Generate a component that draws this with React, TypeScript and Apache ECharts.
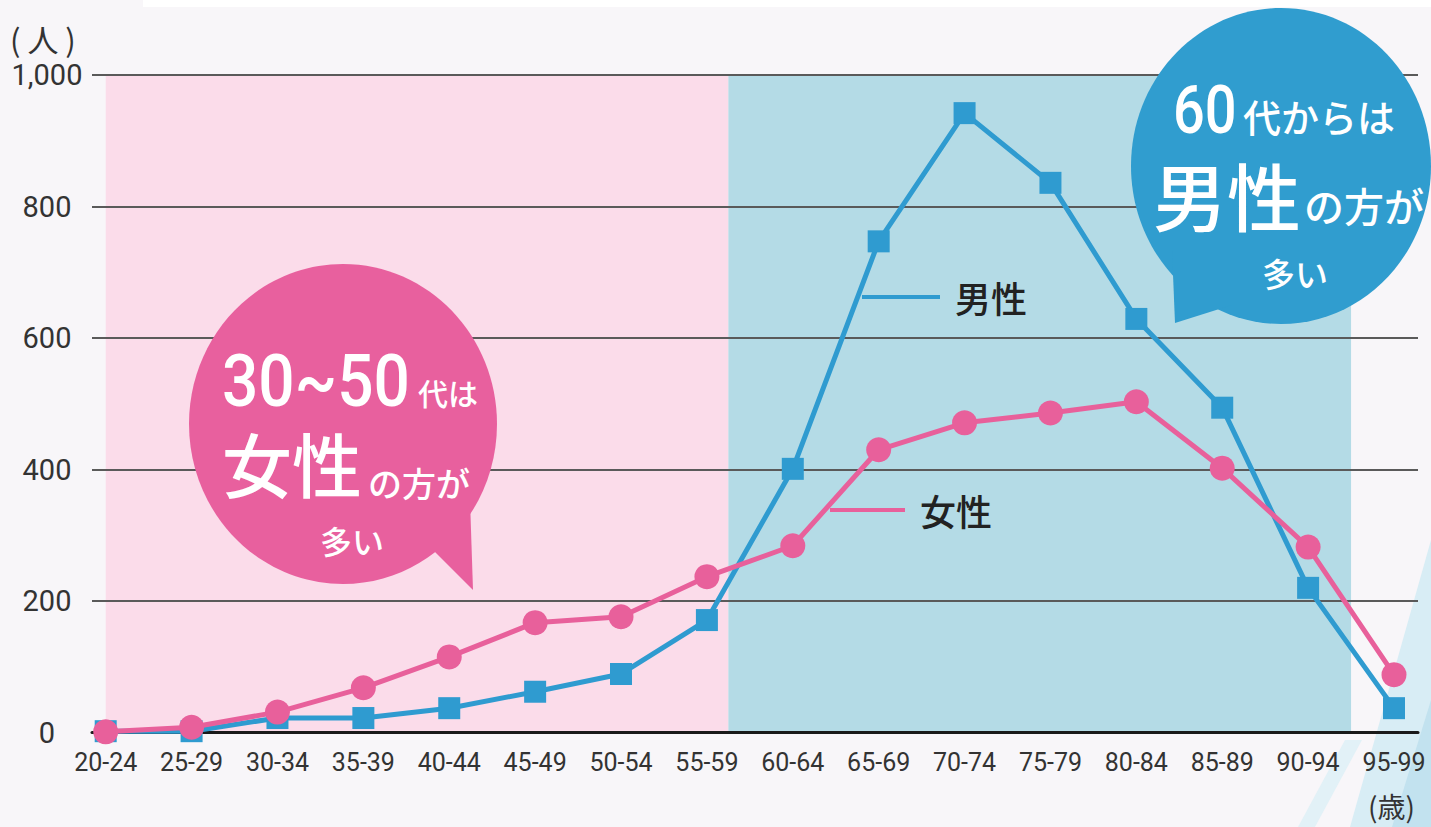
import React, { useEffect, useRef } from 'react';
import * as echarts from 'echarts';

const categories = ['20-24', '25-29', '30-34', '35-39', '40-44', '45-49', '50-54', '55-59', '60-64', '65-69', '70-74', '75-79', '80-84', '85-89', '90-94', '95-99'];
const maleValues = [2, 2, 22, 22, 37, 62, 89, 171, 401, 747, 942, 836, 629, 494, 220, 37];
const femaleValues = [1, 8, 31, 68, 115, 167, 176, 237, 284, 430, 471, 486, 503, 402, 282, 88];
const yTicks = [0, 200, 400, 600, 800, 1000];
const pinkRange = [0, 7.25];
const blueRange = [7.25, 14.5];

const NUM = "Roboto,'Liberation Sans',sans-serif";
const JP = "'Noto Sans CJK JP','Noto Sans',sans-serif";

const BLUE = '#2f9bd0';
const PINK = '#e8609b';

export default function App() {
  const ref = useRef<HTMLDivElement>(null);
  useEffect(() => {
    if (!ref.current) return;
    const chart = echarts.init(ref.current, undefined, { renderer: 'svg' });
    const yMin = yTicks[0];
    const yMax = yTicks[yTicks.length - 1];
    const yInt = yTicks[1] - yTicks[0];
    const txt = (text: string, x: number, y: number, fontSize: number, opts: any = {}) => ({
      type: 'text',
      x,
      y,
      z: 10,
      scaleX: opts.scaleX || 1,
      scaleY: opts.scaleY || 1,
      silent: true,
      style: {
        text,
        fontSize,
        fontFamily: opts.family || JP,
        fontWeight: opts.weight || 500,
        fill: opts.fill || '#fff',
        textAlign: opts.align || 'left',
        textVerticalAlign: 'middle',
      },
    });
    chart.setOption({
      animation: false,
      backgroundColor: '#f8f6f9',
      grid: [
        { left: 92, right: 13, top: 75, bottom: 94.5 },
        { left: 105.7, right: 37, top: 75, bottom: 94.5 },
      ],
      xAxis: [
        {
          gridIndex: 0, type: 'value', min: 0, max: 1, z: 1,
          axisLine: { show: true, lineStyle: { color: '#1a1a1a', width: 3 } },
          axisTick: { show: false }, axisLabel: { show: false }, splitLine: { show: false },
        },
        {
          gridIndex: 1, type: 'category', data: categories, boundaryGap: false,
          axisLine: { show: false }, axisTick: { show: false },
          axisLabel: { fontSize: 25, color: '#333', fontFamily: NUM, margin: 17, interval: 0 },
        },
        { gridIndex: 1, type: 'value', min: 0, max: 15, show: false },
      ],
      yAxis: [
        {
          gridIndex: 0, type: 'value', min: yMin, max: yMax, interval: yInt, z: 1,
          axisLine: { show: false }, axisTick: { show: false },
          axisLabel: {
            formatter: (v: number) => v.toLocaleString('en-US'),
            align: 'center', margin: 45, fontSize: 29, color: '#333', fontFamily: NUM,
          },
          splitLine: { lineStyle: { color: '#5a5a5a', width: 2 } },
        },
        { gridIndex: 1, type: 'value', min: yMin, max: yMax, show: false },
      ],
      series: [
        {
          type: 'line', xAxisIndex: 2, yAxisIndex: 1, data: [], silent: true, z: -1,
          markArea: {
            silent: true, z: -1,
            data: [
              [{ xAxis: pinkRange[0], yAxis: yMin, itemStyle: { color: '#fbdcea' } }, { xAxis: pinkRange[1], yAxis: yMax }],
              [{ xAxis: blueRange[0], yAxis: yMin, itemStyle: { color: '#b4dbe6' } }, { xAxis: blueRange[1], yAxis: yMax }],
            ],
          },
        },
        {
          name: '男性', type: 'line', xAxisIndex: 1, yAxisIndex: 1, data: maleValues,
          symbol: 'rect', symbolSize: 22, z: 3,
          lineStyle: { color: BLUE, width: 5 }, itemStyle: { color: BLUE },
        },
        {
          name: '女性', type: 'line', xAxisIndex: 1, yAxisIndex: 1, data: femaleValues,
          symbol: 'circle', symbolSize: 25, z: 4,
          lineStyle: { color: PINK, width: 5 }, itemStyle: { color: PINK },
        },
      ],
      graphic: [
        { type: 'rect', z: -5, silent: true, shape: { x: 143, y: 0, width: 1288, height: 7 }, style: { fill: '#ffffff' } },
        { type: 'polygon', z: -5, silent: true, shape: { points: [[1431, 540], [1431, 827], [1350, 827]] }, style: { fill: '#d8edf5' } },
        { type: 'polygon', z: -5, silent: true, shape: { points: [[1431, 700], [1431, 827], [1392, 827]] }, style: { fill: '#c2e2ef' } },
        { type: 'polygon', z: -5, silent: true, shape: { points: [[1345, 740], [1362, 740], [1315, 827], [1298, 827]] }, style: { fill: '#e2f1f7' } },
        // pink bubble
        { type: 'ellipse', z: 8, silent: true, shape: { cx: 343, cy: 424, rx: 154, ry: 160 }, style: { fill: '#e8609e' } },
        { type: 'polygon', z: 8, silent: true, shape: { points: [[428, 545], [473, 590], [470, 500]] }, style: { fill: '#e8609e' } },
        txt('30~50', 222, 382, 64, { family: NUM, weight: 500, scaleY: 1.12 }),
        txt('代は', 418, 392, 30),
        txt('女性', 222, 462, 70),
        txt('の方が', 368, 482, 34),
        txt('多い', 352, 540, 32, { align: 'center' }),
        // blue bubble
        { type: 'ellipse', z: 8, silent: true, shape: { cx: 1281, cy: 166, rx: 150, ry: 158 }, style: { fill: '#309dcf' } },
        { type: 'polygon', z: 8, silent: true, shape: { points: [[1175, 323], [1172, 250], [1232, 305]] }, style: { fill: '#309dcf' } },
        txt('60', 1173, 110, 56, { family: NUM, weight: 500, scaleY: 1.18 }),
        txt('代からは', 1243, 115, 38),
        txt('男性', 1153, 193, 74),
        txt('の方が', 1304, 205, 40),
        txt('多い', 1295, 273, 33, { align: 'center' }),
        // series labels
        { type: 'line', z: 6, silent: true, shape: { x1: 862, y1: 297, x2: 940, y2: 297 }, style: { stroke: BLUE, lineWidth: 4 } },
        txt('男性', 955, 297, 36, { fill: '#222' }),
        { type: 'line', z: 6, silent: true, shape: { x1: 830, y1: 510, x2: 905, y2: 510 }, style: { stroke: PINK, lineWidth: 4 } },
        txt('女性', 920, 510, 36, { fill: '#222' }),
        // units
        txt('( 人 )', 10, 38, 31, { fill: '#333', weight: 400 }),
        txt('(歳)', 1368, 806, 28, { fill: '#333', weight: 400 }),
      ],
    });
    return () => chart.dispose();
  }, []);
  return <div ref={ref} style={{ position: 'fixed', left: 0, top: 0, width: 1431, height: 827 }} />;
}
